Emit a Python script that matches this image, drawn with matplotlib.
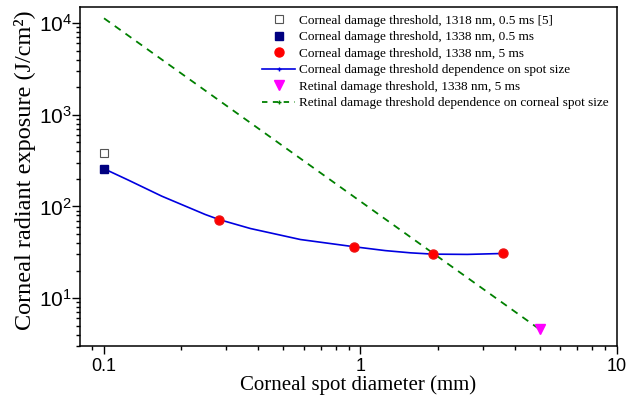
import matplotlib
matplotlib.use("Agg")
import matplotlib.pyplot as plt
from matplotlib.lines import Line2D
from matplotlib.ticker import LogLocator, NullFormatter

plt.rcParams['font.family'] = ['Liberation Sans', 'DejaVu Sans']
plt.rcParams['mathtext.fontset'] = 'custom'
plt.rcParams['mathtext.rm'] = 'Liberation Sans'
plt.rcParams['mathtext.it'] = 'Liberation Sans:italic'

# Data
open_sq_x = [0.1]
open_sq_y = [382]
navy_sq_x = [0.1]
navy_sq_y = [258]
red_x = [0.281, 0.942, 1.916, 3.58]
red_y = [72.0, 36.4, 30.2, 30.7]
curve_x = [0.1, 0.1244, 0.168, 0.248, 0.281, 0.372, 0.583, 0.942, 1.25, 1.568, 1.916, 2.61, 3.58]
curve_y = [258, 194, 129.5, 81.8, 72.0, 57.5, 43.6, 36.4, 33.0, 31.2, 30.2, 30.0, 30.7]
ret_x = [5.0]
ret_y = [4.56]
retline_x = [0.1, 5.0]
retline_y = [11300, 4.56]

labels = [
    "Corneal damage threshold, 1318 nm, 0.5 ms [5]",
    "Corneal damage threshold, 1338 nm, 0.5 ms",
    "Corneal damage threshold, 1338 nm, 5 ms",
    "Corneal damage threshold dependence on spot size",
    "Retinal damage threshold, 1338 nm, 5 ms",
    "Retinal damage threshold dependence on corneal spot size",
]

fig = plt.figure(figsize=(6.38, 4.01), dpi=100)
ax = fig.add_axes([0.1254, 0.137, 0.967 - 0.1254, 0.9825 - 0.137])

ax.plot(retline_x, retline_y, color='#008000', lw=1.3, dashes=(4, 3.3), zorder=2)
ax.plot(curve_x, curve_y, color='#0000e0', lw=1.2, zorder=3)
ax.plot(open_sq_x, open_sq_y, 's', ms=5.5, mfc='white', mec='#555555', mew=0.8, zorder=4)
ax.plot(navy_sq_x, navy_sq_y, 's', ms=6, color='#000080', zorder=4)
ax.plot(red_x, red_y, 'o', ms=6.5, color='#ff0000', mec='#ee1111', zorder=4)
ax.plot(ret_x, ret_y, 'v', ms=7, color='#ff00ff', zorder=4)

ax.set_xscale('log')
ax.set_yscale('log')
ax.set_xlim(0.0806, 10)
ax.set_ylim(3.0, 15000)

ax.tick_params(which='both', direction='out', top=False, right=False, width=1.0)
ax.tick_params(which='major', length=5.5)
ax.tick_params(which='minor', length=3)
ax.tick_params(axis='x', labelsize=13, pad=3)
ax.tick_params(axis='y', labelsize=15, pad=0.5)
ax.xaxis.set_minor_locator(LogLocator(base=10, subs=range(2, 10)))
ax.xaxis.set_minor_formatter(NullFormatter())
ax.yaxis.set_minor_locator(LogLocator(base=10, subs=range(2, 10)))
ax.yaxis.set_minor_formatter(NullFormatter())
ax.set_xticks([0.1, 1, 10])
ax.set_xticklabels(['0.1', '1', '10'])
for s in ax.spines.values():
    s.set_linewidth(1.1)

ax.set_xlabel("Corneal spot diameter (mm)", family='Liberation Serif', fontsize=15)
ax.xaxis.set_label_coords(0.518, -0.085)
ax.set_ylabel("Corneal radiant exposure (J/cm²)", family='Liberation Serif', fontsize=17.5)
ax.yaxis.set_label_coords(-0.082, 0.519)

handles = [
    Line2D([], [], ls='none', marker='s', ms=5.5, mfc='white', mec='#555555', mew=0.8),
    Line2D([], [], ls='none', marker='s', ms=6, color='#000080'),
    Line2D([], [], ls='none', marker='o', ms=6.5, color='#ff0000'),
    Line2D([], [], color='#0000e0', lw=1.2, marker='+', ms=3),
    Line2D([], [], ls='none', marker='v', ms=7, color='#ff00ff'),
    Line2D([], [], color='#008000', lw=1.3, dashes=(3, 3), marker='+', ms=3),
]
leg = ax.legend(handles, labels, loc='upper left', bbox_to_anchor=(0.407, 0.970),
                bbox_transform=fig.transFigure, frameon=False,
                prop={'family': 'Liberation Serif', 'size': 9.5},
                handlelength=2.5, handletextpad=0.25, labelspacing=0.32,
                borderpad=0.2, borderaxespad=0)

fig.savefig("out.png", dpi=100)
